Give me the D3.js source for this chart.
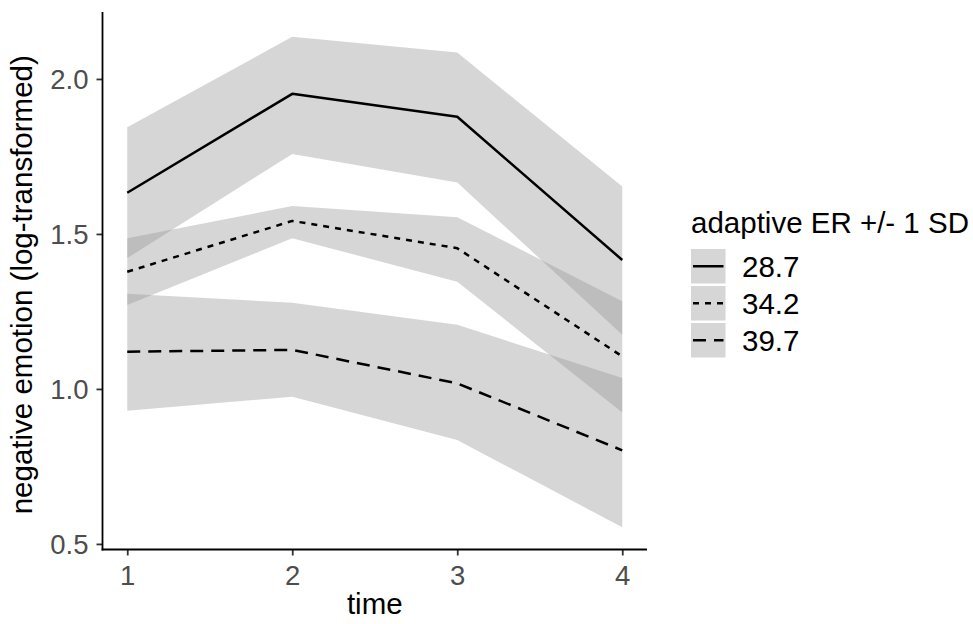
<!DOCTYPE html>
<html>
<head>
<meta charset="utf-8">
<script src="https://cdn.jsdelivr.net/npm/d3@7"></script>
<style>
  html, body { margin: 0; padding: 0; background: #fff; }
  svg { display: block; font-family: "Liberation Sans", Arial, sans-serif; }
</style>
</head>
<body>
<svg id="chart" width="973" height="624"></svg>
<script>
// ---- data ----
const times = [1, 2, 3, 4];
const groups = ["28.7", "34.2", "39.7"];
const fit287 = [1.633, 1.952, 1.878, 1.416];
const lower287 = [1.422, 1.758, 1.666, 1.175];
const upper287 = [1.844, 2.136, 2.085, 1.653];
const fit342 = [1.378, 1.542, 1.454, 1.105];
const lower342 = [1.271, 1.486, 1.346, 0.924];
const upper342 = [1.486, 1.590, 1.554, 1.283];
const fit397 = [1.120, 1.126, 1.018, 0.802];
const lower397 = [0.930, 0.975, 0.835, 0.554];
const upper397 = [1.307, 1.278, 1.207, 1.035];
const xTicks = [1, 2, 3, 4];
const yTicks = [0.5, 1.0, 1.5, 2.0];
const legendTitle = "adaptive ER +/- 1 SD";
const xTitle = "time";
const yTitle = "negative emotion (log-transformed)";

const series = [
  { key: groups[0], fit: fit287, lo: lower287, hi: upper287, dash: null },
  { key: groups[1], fit: fit342, lo: lower342, hi: upper342, dash: "6,6" },
  { key: groups[2], fit: fit397, lo: lower397, hi: upper397, dash: "13,8" }
];

// ---- layout ----
const svg = d3.select("#chart");
const panel = { left: 102.5, right: 647, top: 12, bottom: 549.5 };

const x = d3.scaleLinear().domain([0.85, 4.15]).range([panel.left, panel.right]);
const y = d3.scaleLinear().domain([0.482, 2.216]).range([panel.bottom, panel.top]);

const g = svg.append("g");

// ribbons
const area = d3.area()
  .x((d, i) => x(times[i]))
  .y0(d => y(d[0]))
  .y1(d => y(d[1]));

series.forEach(s => {
  const pts = times.map((t, i) => [s.lo[i], s.hi[i]]);
  g.append("path")
    .attr("d", area(pts))
    .attr("fill", "#999999")
    .attr("fill-opacity", 0.4);
});

// lines
const line = d3.line()
  .x((d, i) => x(times[i]))
  .y(d => y(d));

series.forEach(s => {
  g.append("path")
    .attr("d", line(s.fit))
    .attr("fill", "none")
    .attr("stroke", "#000")
    .attr("stroke-width", 2.5)
    .attr("stroke-dasharray", s.dash)
    .attr("stroke-linejoin", "round");
});

// axes
const xAxis = d3.axisBottom(x).tickValues(xTicks).tickFormat(d3.format("d")).tickSize(6).tickPadding(4).tickSizeOuter(0);
const yAxis = d3.axisLeft(y).tickValues(yTicks).tickFormat(d3.format(".1f")).tickSize(6).tickPadding(8).tickSizeOuter(0);

const gx = svg.append("g").attr("transform", `translate(0,${panel.bottom})`).call(xAxis);
const gy = svg.append("g").attr("transform", `translate(${panel.left},0)`).call(yAxis);

[gx, gy].forEach(a => {
  a.select(".domain").remove();
  a.selectAll(".tick line").attr("stroke", "#333").attr("stroke-width", 1.8);
  a.selectAll(".tick text").attr("fill", "#4d4d4d").style("font-size", "27.5px")
    .style("font-family", "'Liberation Sans', Arial, sans-serif");
});
gx.selectAll(".tick text").attr("y", 35.5).attr("dy", 0);
gy.selectAll(".tick text").attr("dy", "0.36em");

// axis lines
svg.append("line")
  .attr("x1", panel.left).attr("x2", panel.left)
  .attr("y1", panel.top).attr("y2", panel.bottom + 0.9)
  .attr("stroke", "#000").attr("stroke-width", 1.8);
svg.append("line")
  .attr("x1", panel.left - 0.9).attr("x2", panel.right)
  .attr("y1", panel.bottom).attr("y2", panel.bottom)
  .attr("stroke", "#000").attr("stroke-width", 1.8);

// axis titles
svg.append("text")
  .attr("x", (panel.left + panel.right) / 2)
  .attr("y", 614)
  .attr("text-anchor", "middle")
  .style("font-size", "29.5px")
  .attr("fill", "#000")
  .text(xTitle);

svg.append("text")
  .attr("transform", `translate(32,${(panel.top + panel.bottom) / 2 + 4}) rotate(-90)`)
  .attr("text-anchor", "middle")
  .style("font-size", "29.5px")
  .attr("fill", "#000")
  .text(yTitle);

// legend
const lg = svg.append("g");
const keySize = 34.5, keyStep = 37, keyX = 691, keyY0 = 249;
lg.append("text")
  .attr("x", keyX).attr("y", 233)
  .style("font-size", "29.5px")
  .attr("fill", "#000")
  .text(legendTitle);

series.forEach((s, i) => {
  const ky = keyY0 + i * keyStep;
  lg.append("rect")
    .attr("x", keyX).attr("y", ky)
    .attr("width", keySize).attr("height", keySize)
    .attr("fill", "#999999").attr("fill-opacity", 0.4);
  lg.append("line")
    .attr("x1", keyX + 2).attr("x2", keyX + keySize - 2)
    .attr("y1", ky + keySize / 2).attr("y2", ky + keySize / 2)
    .attr("stroke", "#000").attr("stroke-width", 2.5)
    .attr("stroke-dasharray", s.dash);
  lg.append("text")
    .attr("x", 742).attr("y", ky + keySize / 2 + 10.5)
    .style("font-size", "29.5px")
    .attr("fill", "#000")
    .text(s.key);
});
</script>
</body>
</html>
